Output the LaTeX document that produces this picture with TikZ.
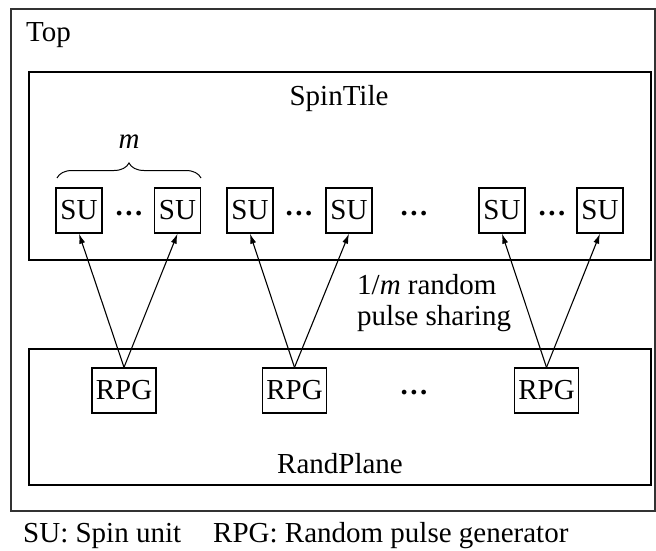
\documentclass[tikz,border=0pt]{standalone}
\usepackage{fontspec}
\setmainfont{Liberation Serif}
\usetikzlibrary{arrows.meta,decorations.pathreplacing}
\newcommand{\mydots}{\raisebox{7pt}{\textbf{.\kern2.5pt.\kern2.5pt.}}}
\begin{document}
\begin{tikzpicture}[x=1pt,y=-1pt,
  every node/.style={font=\fontsize{29}{34}\selectfont},
  frame/.style={draw,line width=1.3pt},
  subox/.style={draw,line width=1.3pt,minimum width=46pt,minimum height=45pt,inner sep=0pt},
  rpgbox/.style={draw,line width=1.3pt,minimum width=64pt,minimum height=45pt,inner sep=0pt},
  lbl/.style={anchor=base,inner sep=0pt},
  conn/.style={line width=1.1pt,-{Latex[length=10pt,width=6pt]}}]
\useasboundingbox (0,0) rectangle (656,551);
\draw[line width=1.8pt,black!80] (11,9) rectangle (655,511);
\node[lbl,anchor=base west] (top) at (26,42) {Top};
\draw[frame] (29,72) rectangle (651,260);
\node[lbl] (spintile) at (339,105) {SpinTile};
\draw[frame] (29,349) rectangle (651,485);
\node[lbl] (randplane) at (340,473) {RandPlane};
% SU boxes
\node[subox] (su1) at (79,210.5) {SU};
\node[subox] (su2) at (177.5,210.5) {SU};
\node[subox] (su3) at (250,210.5) {SU};
\node[subox] (su4) at (349,210.5) {SU};
\node[subox] (su5) at (502,210.5) {SU};
\node[subox] (su6) at (600,210.5) {SU};
\node[lbl] (d1) at (129,222) {\mydots};
\node[lbl] (d2) at (299,222) {\mydots};
\node[lbl] (d3) at (414,222) {\mydots};
\node[lbl] (d4) at (552,222) {\mydots};
% brace
\draw[line width=1pt,decorate,decoration={brace,amplitude=15pt}] (57,178) -- (201,178);
\node[lbl] (m) at (129,148) {\textit{m}};
% RPG boxes
\node[rpgbox] (r1) at (124,390.5) {RPG};
\node[rpgbox] (r2) at (294.5,390.5) {RPG};
\node[rpgbox] (r3) at (546.5,390.5) {RPG};
\node[lbl] (d5) at (414,401) {\mydots};
% arrows
\draw[conn] (r1.north) -- (su1.south);
\draw[conn] (r1.north) -- (su2.south);
\draw[conn] (r2.north) -- (su3.south);
\draw[conn] (r2.north) -- (su4.south);
\draw[conn] (r3.north) -- (su5.south);
\draw[conn] (r3.north) -- (su6.south);
% labels
\node[lbl,anchor=base west] (share1) at (357,294) {1/\textit{m} random};
\node[lbl,anchor=base west] (share2) at (357,325) {pulse sharing};
\node[lbl,anchor=base west] (leg1) at (23,542) {SU: Spin unit};
\node[lbl,anchor=base west] (leg2) at (213,542) {RPG: Random pulse generator};
\end{tikzpicture}
\end{document}
